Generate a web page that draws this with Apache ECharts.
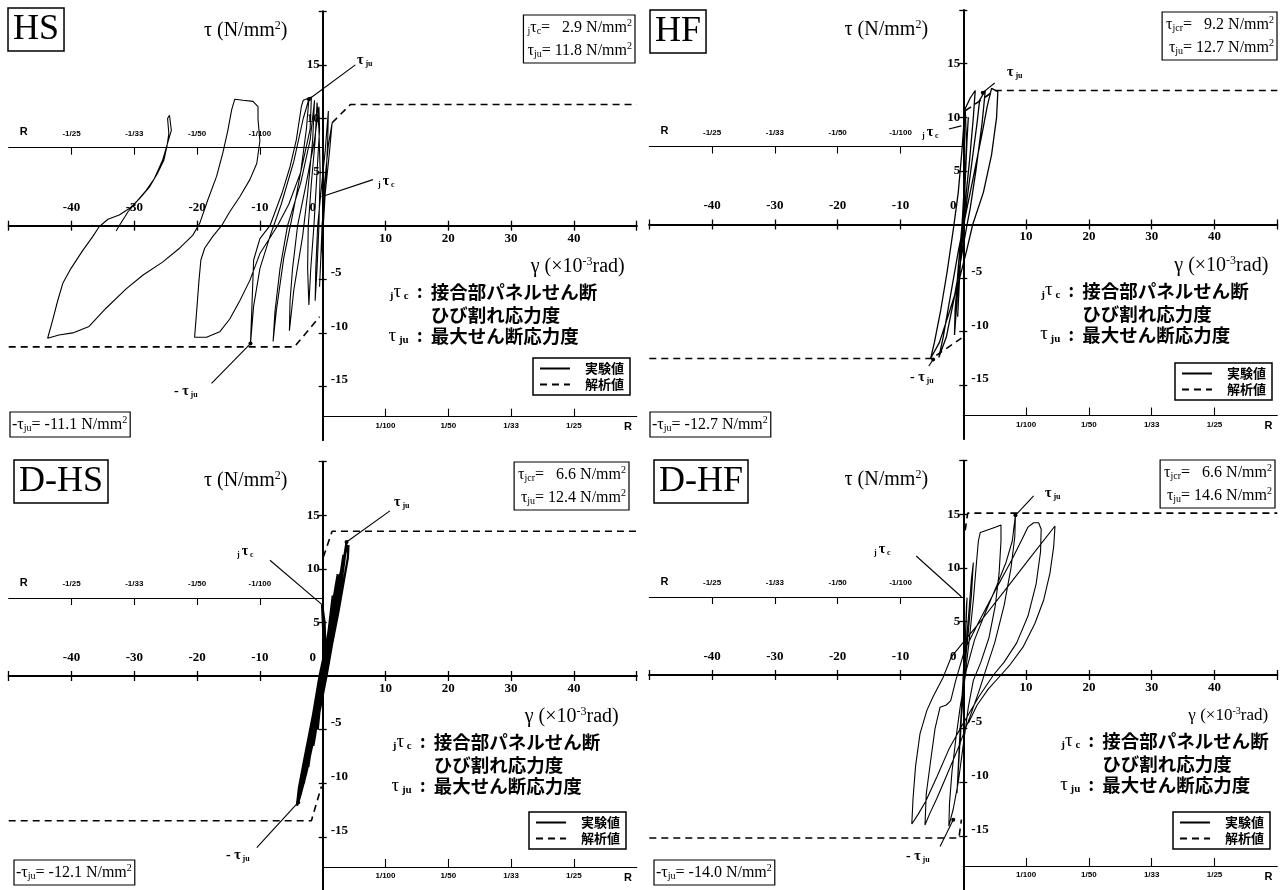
<!DOCTYPE html>
<html>
<head>
<meta charset="utf-8">
<script src="https://cdn.jsdelivr.net/npm/echarts@6/dist/echarts.min.js"></script>
<style>
  html, body { margin: 0; padding: 0; background: #fff; }
  #chart { width: 1286px; height: 890px; }
</style>
</head>
<body>
<div id="chart"></div>
<script>
// 目盛ラベル
var xLabelPos = [10, 20, 30, 40];
var xLabelNeg = [-40, -30, -20, -10];
var yLabelPos = [5, 10, 15];
var yLabelNeg = [-5, -10, -15];
var yTickVals = [-15, -10, -5, 5, 10, 15, 20];
var rTickNeg = [-40, -30, -20, -10];
var rLabelNeg = ['-1/25', '-1/33', '-1/50', '-1/100'];
var rTickPos = [10, 20, 30, 40];
var rLabelPos = ['1/100', '1/50', '1/33', '1/25'];

// 試験体
var titles = ['HS', 'HF', 'D-HS', 'D-HF'];
var crackVal = ['2.9', '9.2', '6.6', '6.6'];
var maxVal = ['11.8', '12.7', '12.4', '14.6'];
var minVal = ['-11.1', '-12.7', '-12.1', '-14.0'];

// 実験値 (γ ×10^-3 rad, τ N/mm2)
var hsCurve = [
  [0,0],[0.3,4],[0.9,7.5],[1.5,9.6],[1.1,7],[0.4,3],[-0.1,0],[-0.3,-3],[-0.5,-5.7],[-0.3,-3],[0.1,0],
  [0.5,4],[0.8,8],[0.9,10.7],[0.4,7],[-0.3,3],[-0.8,0],[-1.1,-4],[-1.2,-7.0],[-0.9,-4],[-0.6,0],
  [-0.4,5],[-0.6,9],[-0.9,11.5],[-1.2,8],[-1.8,4],[-2.3,0],[-2.4,-4],[-2.2,-7.4],[-1.9,-4],[-1.4,0],
  [-0.9,5],[-0.5,9],[-0.6,11.1],[-1.3,8],[-2.6,4],[-4.0,0],[-4.8,-4],[-5.2,-7],[-5.3,-9.8],[-4.6,-6],
  [-3.2,-1],[-2.4,3],[-1.6,8],[-1.3,11.7],[-2.0,8],[-3.5,4],[-5.6,0],[-6.8,-4],[-7.6,-8],[-7.9,-10.8],
  [-7.4,-8],[-6.2,-3],[-4.8,1],[-3.5,5],[-2.6,9],[-2.2,11.8],[-3.1,10],[-4.6,6],[-6.6,2],[-8.4,-1],
  [-10,-4],[-11,-7.5],[-11.5,-11.0],[-11.3,-8],[-11.0,-3.2],[-10.0,-1.2],[-8.4,0],[-6.5,3],[-5.2,5.5],
  [-4.2,8],[-3.4,11.1],[-3.1,11.7],[-1.8,12.0],[-2.0,9],[-3.5,5],[-5.4,2],[-7.2,0],[-8.8,-1.5],[-10.0,-2.6],
  [-11.6,-5.1],[-13.2,-7.0],[-14.8,-8.7],[-16.4,-9.9],[-18.5,-10.4],[-20.4,-10.4],[-20.1,-8.2],[-19.7,-5.1],
  [-19.4,-3.2],[-18.8,-2.1],[-17.5,-1.0],[-16.1,0],[-14.8,1.3],[-13.2,2.7],[-11.6,4.3],[-10.5,5.8],
  [-10.0,7.9],[-10.3,9.9],[-10.3,11.1],[-11.1,11.6],[-12.7,11.7],[-14.0,11.8],[-14.5,10.8],[-15.1,8.9],
  [-15.9,6.8],[-16.9,4.6],[-18.3,2.4],[-19.6,0.2],[-20.7,-0.9],[-22.8,-2.1],[-25.5,-3.4],[-28.6,-4.6],
  [-31.3,-5.9],[-34.5,-7.7],[-37.2,-9.4],[-39.8,-10.0],[-42.0,-10.2],[-43.8,-10.5],[-43.0,-8.8],
  [-42.2,-7.0],[-41.4,-5.4],[-40.1,-4.0],[-38.2,-2.3],[-36.6,-1.0],[-35.6,-0.1],[-34.2,0.6],[-32.4,1.0],
  [-30.8,1.6],[-29.2,2.5],[-27.6,3.6],[-26.3,4.9],[-25.3,6.1],[-24.8,7.4],[-24.5,8.6],[-24.7,10.0],
  [-24.4,10.3],[-24.1,8.9],[-24.7,7.7],[-25.5,6.1],[-26.8,4.4],[-28.1,3.3],[-29.7,2.2],[-31.0,1.3],
  [-32.4,0],[-32.9,-0.5]
];
var hfCurve = [
  [0,0],[0.3,4],[0.6,8],[0.8,10.0],[0.5,7],[0.1,3],[-0.3,-1],[-0.6,-5],[-0.9,-8.6],[-0.6,-5],[-0.2,-1],
  [0.2,3],[0.5,7.5],[0.3,10.8],[1.1,11.8],[1.9,12.5],[1.6,10],[1.0,6],[0.3,2],[-0.2,0],[-0.8,-4],
  [-1.3,-8],[-1.4,-10.3],[-1.0,-7],[-0.3,-2.5],[0.4,1.5],[1.3,5.5],[2.2,9.5],[2.6,11.6],[3.5,12.5],
  [3.0,9.5],[2.0,5],[1.1,1.5],[0.6,0],[-0.3,-3],[-1.5,-7],[-2.7,-10.5],[-3.9,-12.4],[-3.2,-10.5],
  [-2.0,-6.5],[-0.8,-2.5],[0.4,1],[1.8,5],[3.0,8.5],[3.8,11.0],[4.5,12.7],[5.5,12.4],[5.3,10],
  [4.5,6.5],[3.2,3],[1.5,0],[0.5,-2.5],[-0.8,-5.5],[-2.4,-8.5],[-3.8,-11],[-5.2,-12.5],[-4.6,-11],
  [-3.6,-8],[-2.6,-4.5],[-1.6,-0.5],[-0.8,3],[-0.2,7],[0.1,9.5]
];
var dhsCurve = [
  [0,0],[0.2,2],[0.4,3.2],[0.1,1.5],[-0.2,-1],[-0.4,-3],[-0.2,-1.5],[0.1,1],[0.1,4],[-0.1,6.7],[0.3,5],
  [0.4,3],[0.2,0.5],[-0.3,-2],[-0.8,-5],[-0.5,-3],[0.1,0],[0.8,3],[1.4,6],[1.6,7.5],[1.1,5],[0.5,2],
  [0.1,0],[-0.6,-3],[-1.2,-5.5],[-1.5,-6.5],[-1.0,-4.5],[-0.3,-1],[0.5,2.5],[1.4,6],[2.1,8.5],[2.4,9.5],
  [1.9,7],[1.2,4],[0.5,1],[0.1,0],[-0.8,-3],[-1.7,-6],[-2.3,-8.5],[-1.8,-6.5],[-1.0,-3.5],[-0.3,-0.5],
  [0.6,2.5],[1.6,5.5],[2.6,8.5],[3.3,11.3],[2.9,9.5],[2.0,6],[1.1,3],[0.4,0.5],[-0.5,-2.5],[-1.6,-5.5],
  [-2.4,-8],[-3.0,-10],[-2.5,-8],[-1.6,-5],[-0.6,-1.5],[0.4,1.5],[1.5,4.5],[2.6,8],[3.4,11],[3.8,12.5],
  [3.5,11],[2.8,8],[1.8,4.5],[0.9,1.5],[0.3,-0.5],[-0.6,-3],[-1.7,-6],[-2.8,-9],[-3.6,-11.2],[-3.9,-11.8],
  [-3.4,-10],[-2.5,-7],[-1.5,-3.5],[-0.5,0],[0.6,3],[1.7,6.5],[2.8,9.5],[3.6,11.5],[4.1,12.2],[4.0,11],
  [3.4,9],[2.5,6],[1.5,3],[0.6,0],[-0.4,-3],[-1.5,-6],[-2.6,-9],[-3.5,-11],[-4.1,-12.1],[-3.8,-10.5],
  [-3.0,-8],[-2.0,-5],[-1.0,-2]
];
var dhfCurve = [
  [0,0],[0.3,3],[0.5,6.5],[0.6,7.2],[0.4,4],[0.1,1],[-0.2,-2],[-0.4,-5],[-0.5,-6.5],[-0.3,-4],[0,-1],
  [0.4,2.5],[0.9,6],[1.3,9],[1.6,10.5],[1.3,7.5],[0.8,4],[0.3,1],[-0.1,-1.5],[-0.5,-5],[-0.8,-8.5],
  [-1.0,-11],[-0.7,-8],[-0.3,-4],[0.2,-0.5],[0.9,3],[1.6,7],[2.1,10.5],[2.4,12.5],[2.7,13.3],[4.2,13.6],
  [5.2,13.8],[6.0,14.0],[6.0,12.5],[5.7,9.5],[5.1,6.5],[4.1,3.5],[2.8,1.2],[1.6,-0.5],[0.8,-3],[0.0,-6.5],
  [-0.8,-10],[-1.6,-12.5],[-2.3,-14.1],[-2.2,-12],[-1.8,-9],[-1.2,-6],[-0.5,-3],[0.5,0.5],[1.8,3.3],
  [3.5,5.8],[5.3,8.3],[6.8,10.5],[7.8,12.5],[8.3,14.9],[8.2,12.9],[7.6,10],[6.5,6.5],[5.0,3],[3.6,0.5],
  [2.5,-1.5],[1.0,-4],[-0.8,-6.8],[-2.6,-9.3],[-4.2,-11.5],[-5.4,-13],[-6.1,-14.0],[-5.9,-11.1],[-5.2,-8],
  [-4.5,-5],[-3.7,-3.0],[-2.7,-2.8],[-2.0,-2.4],[-1.2,-0.5],[0.2,2.3],[2.5,5],[5,7.8],[7.5,10.5],
  [9.3,12.6],[10.3,13.8],[11.2,14.2],[12.0,14.2],[12.4,13.6],[12.3,11.5],[11.6,8.5],[10.3,5.5],[8.5,3],
  [6.5,1.2],[4.8,0],[2.5,-2],[0,-4.5],[-2.2,-6.8],[-4.2,-9.5],[-6.0,-11.8],[-7.2,-13],[-8.2,-13.9],
  [-8.0,-11.5],[-7.6,-8.5],[-6.9,-5.5],[-5.8,-3.3],[-4.8,-2.0],[-3.2,-0.2],[-1.9,1.7],[2.6,4.9],
  [6.5,7.8],[10.6,10.9],[14.6,13.9],[14.4,12],[13.8,9.5],[12.8,7],[11.4,4.8],[9.5,2.6],[7.5,1],[6.0,0],
  [4,-1.3],[2.2,-2.8],[0.8,-4.5]
];
var curves = [hsCurve, hfCurve, dhsCurve, dhfCurve];
var curveWidth = [1.1, 1.3, 2.3, 1.1];

// 解析値
var dashLow = [
  [[-50,-11.3],[-4.5,-11.3],[-0.5,-8.5]],
  [[-50,-12.5],[-5.0,-12.5],[-0.3,-10.6]],
  [[-50,-13.5],[-1.8,-13.5],[-0.2,-10.3]],
  [[-50,-15.2],[-0.7,-15.2],[-0.3,-13.5]]
];
var dashHigh = [
  [[1.5,9.6],[4.4,11.3],[50,11.3]],
  [[0.3,10.6],[5.0,12.5],[50,12.5]],
  [[0.1,11.1],[1.5,13.5],[50,13.5]],
  [[0.3,13.5],[0.7,15.1],[50,15.1]]
];

// 引出線 (τju, jτc, -τju)
var leadMax = [[[5.2,15.0],[-2.2,11.8]], [[5.0,13.2],[3.1,12.3]], [[10.7,15.4],[3.8,12.5]], [[11.2,16.7],[8.3,14.9]]];
var leadCrack = [[[8.0,4.3],[-0.2,2.7]], [[-2.3,8.9],[-0.3,9.2]], [[-8.4,10.8],[-0.2,6.7]], [[-7.5,11.1],[-0.3,7.3]]];
var leadMin = [[[-17.7,-14.7],[-11.5,-11.0]], [[-5.5,-13.2],[-4.8,-12.6]], [[-10.5,-16.0],[-3.9,-11.8]], [[-3.7,-16.0],[-1.6,-13.5]]];

// 各グラフの原点 (px)
var origins = [[322.7, 225.7], [963.3, 224.5], [322.7, 676], [963.3, 675]];
var XW = 314, YH = 214.4;

var SERIF = 'Liberation Serif';
var SANS = 'Liberation Sans';
var JP = 'Noto Sans CJK JP';

var chart = echarts.init(document.getElementById('chart'));

var grid = [], xAxis = [], yAxis = [], series = [], graphic = [], legend = [];

// 主軸: offset で原点に移動
function mainX(gi, upper) {
  return {
    type: 'value', gridIndex: gi, min: -50, max: 50, interval: 10,
    position: upper ? 'top' : 'bottom', offset: -YH,
    axisLine: { onZero: false, lineStyle: { color: '#000', width: 1.8 } },
    axisTick: { inside: false, length: 5, lineStyle: { color: '#000', width: 1.3 } },
    axisLabel: {
      margin: upper ? 12 : 6,
      customValues: upper ? xLabelNeg.concat([0]) : xLabelPos,
      formatter: function (v) { return v === 0 ? '{z|0}' : String(v); },
      color: '#000', fontFamily: SERIF, fontWeight: 'bold', fontSize: 13,
      rich: { z: { padding: [0, 20, 0, 0], fontFamily: SERIF, fontWeight: 'bold', fontSize: 13, color: '#000' } }
    },
    splitLine: { show: false }
  };
}
function mainY(gi, lower) {
  return {
    type: 'value', gridIndex: gi, min: -20, max: 20, interval: 5,
    position: lower ? 'right' : 'left', offset: -XW,
    axisLine: { onZero: false, lineStyle: { color: '#000', width: 1.8 } },
    axisTick: { inside: false, length: 4, customValues: yTickVals, lineStyle: { color: '#000', width: 1.3 } },
    axisLabel: {
      margin: lower ? 8 : 3,
      customValues: lower ? yLabelNeg : yLabelPos,
      verticalAlign: lower ? 'bottom' : 'middle',
      color: '#000', fontFamily: SERIF, fontWeight: 'bold', fontSize: 13
    },
    splitLine: { show: false }
  };
}
function rAxis(gi, left) {
  var ticks = left ? rTickNeg : rTickPos;
  var labs = left ? rLabelNeg : rLabelPos;
  return {
    type: 'value', gridIndex: gi, min: left ? -50 : 0, max: left ? 0 : 50,
    position: left ? 'bottom' : 'top',
    axisLine: { onZero: false, lineStyle: { color: '#000', width: 1.1 } },
    axisTick: { inside: false, length: left ? 7 : 8, customValues: ticks, lineStyle: { color: '#000', width: 1.1 } },
    axisLabel: {
      inside: true, margin: left ? 10 : 5,
      customValues: ticks.concat([left ? -47.6 : 48.6]),
      formatter: function (v) {
        var i = ticks.indexOf(v);
        return i < 0 ? '{r|R}' : labs[i];
      },
      color: '#000', fontFamily: SANS, fontWeight: 'bold', fontSize: 8,
      rich: { r: { fontFamily: SANS, fontWeight: 'bold', fontSize: 11, color: '#000' } }
    },
    splitLine: { show: false }
  };
}
function hiddenY(gi) {
  return { type: 'value', gridIndex: gi, show: false, min: 0, max: 1 };
}

var subRich = {
  t: { fontFamily: SERIF, fontSize: 16, color: '#000' },
  s: { fontFamily: SERIF, fontSize: 10, color: '#000', padding: [7, 0, 0, 0] },
  p: { fontFamily: SERIF, fontSize: 10, color: '#000', padding: [0, 0, 9, 0] }
};
var callRich = {
  t: { fontFamily: SERIF, fontSize: 14, fontWeight: 'bold', color: '#000' },
  s: { fontFamily: SERIF, fontSize: 8, fontWeight: 'bold', color: '#000', padding: [7, 0, 0, 0] }
};
var symRich = {
  t: { fontFamily: SERIF, fontSize: 19, color: '#000' },
  s: { fontFamily: SERIF, fontSize: 11, fontWeight: 'bold', color: '#000', padding: [9, 0, 0, 0] }
};

// パネル毎の文字位置
var titlePos = [[8, 8], [650, 10], [14, 460], [654, 460]];
var boxRight = [[635, 15], [1277, 12], [629, 462], [1275, 460]];
var minBoxPos = [[10, 412], [650, 412], [14, 860], [654, 860]];
var gammaDx = [255, 258, 249, 265];
var gammaSize = [20, 20, 20, 17];
var noteDx = [108, 119, 111, 139];
var legendPos = [[533, 358], [1175, 363], [529, 812], [1173, 812]];
var callMax = [[357, 60], [1007, 72], [394, 502], [1045, 493]];
var callCrack = [[378, 181], [922, 132], [237, 551], [874, 549]];
var callMin = [[174, 391], [910, 377], [226, 855], [906, 856]];

origins.forEach(function (o, p) {
  var ox = o[0], oy = o[1];
  var g = 3 * p, a = 4 * p;
  grid.push({ left: ox - XW, top: oy - YH, width: 2 * XW, height: 2 * YH, outerBoundsMode: 'none' });
  grid.push({ left: ox - XW, top: oy - 78 - 40, width: XW, height: 40, outerBoundsMode: 'none' });
  grid.push({ left: ox, top: oy + 191, width: XW, height: 30, outerBoundsMode: 'none' });

  xAxis.push(mainX(g, false), mainX(g, true), rAxis(g + 1, true), rAxis(g + 2, false));
  yAxis.push(mainY(g, false), mainY(g, true), hiddenY(g + 1), hiddenY(g + 2));

  series.push({
    type: 'line', name: '実験値', xAxisIndex: a, yAxisIndex: a, data: curves[p],
    symbol: 'none', lineStyle: { color: '#000', width: curveWidth[p] }, silent: true, z: 3
  });
  [dashLow[p], dashHigh[p]].forEach(function (d) {
    series.push({
      type: 'line', name: '解析値', xAxisIndex: a, yAxisIndex: a, data: d,
      symbol: 'none', lineStyle: { color: '#000', width: 1.6, type: [7, 5] }, silent: true, z: 2
    });
  });
  [leadMax[p], leadCrack[p], leadMin[p]].forEach(function (d, k) {
    series.push({
      type: 'line', name: 'lead', xAxisIndex: a, yAxisIndex: a,
      data: [d[0], { value: d[1], symbol: k === 1 ? 'none' : 'circle', symbolSize: 4 }],
      symbol: 'none', showSymbol: true, itemStyle: { color: '#000' },
      lineStyle: { color: '#000', width: 1.1 }, silent: true, z: 4
    });
  });

  legend.push({
    left: legendPos[p][0], top: legendPos[p][1], orient: 'vertical',
    data: ['実験値', '解析値'], selectedMode: false,
    borderColor: '#000', borderWidth: 1.5, padding: [4, 6, 4, 6], itemGap: 3,
    itemWidth: 30, itemHeight: 12,
    itemStyle: { color: 'rgba(0,0,0,0)', borderWidth: 0 },
    lineStyle: { color: '#000' },
    textStyle: { fontFamily: JP, fontWeight: 'bold', fontSize: 13, color: '#000', padding: [0, 0, 0, 10] }
  });

  // タイトル枠
  graphic.push({
    type: 'text', x: titlePos[p][0], y: titlePos[p][1],
    style: {
      text: titles[p], fontFamily: SERIF, fontSize: 36, fill: '#000', lineHeight: 42,
      borderColor: '#000', borderWidth: 1.5, padding: [1, 5, 0, 5]
    }
  });
  // τ (N/mm2)
  graphic.push({
    type: 'text', x: ox - 77, y: oy - 195,
    style: {
      text: '{a|τ (N/mm}{b|2}{a|)}', align: 'center', verticalAlign: 'middle',
      rich: {
        a: { fontFamily: SERIF, fontSize: 20, color: '#000' },
        b: { fontFamily: SERIF, fontSize: 12, color: '#000', padding: [0, 0, 10, 0] }
      }
    }
  });
  // γ (×10-3 rad)
  graphic.push({
    type: 'text', x: ox + gammaDx[p], y: oy + 41,
    style: {
      text: '{a|γ (×10}{b|-3}{a|rad)}', align: 'center', verticalAlign: 'middle',
      rich: {
        a: { fontFamily: SERIF, fontSize: gammaSize[p], color: '#000' },
        b: { fontFamily: SERIF, fontSize: gammaSize[p] * 0.6, color: '#000', padding: [0, 0, 10, 0] }
      }
    }
  });
  // 右上の値
  var line1 = p === 0
    ? '{s|j}{t|τ}{s|c}{t|=   ' + crackVal[p] + ' N/mm}{p|2}'
    : '{t|τ}{s|jcr}{t|=   ' + crackVal[p] + ' N/mm}{p|2}';
  var line2 = '{t|τ}{s|ju}{t|= ' + maxVal[p] + ' N/mm}{p|2}';
  graphic.push({
    type: 'text', x: boxRight[p][0], y: boxRight[p][1],
    style: {
      text: line1 + '\n' + line2, rich: subRich, align: 'right', verticalAlign: 'top',
      lineHeight: 23, borderColor: '#000', borderWidth: 1.2, padding: [1, 3, 1, 4]
    }
  });
  // 左下の値
  graphic.push({
    type: 'text', x: minBoxPos[p][0], y: minBoxPos[p][1],
    style: {
      text: '{t|-τ}{s|ju}{t|= ' + minVal[p] + ' N/mm}{p|2}', rich: subRich,
      lineHeight: 24, borderColor: '#000', borderWidth: 1.2, padding: [1, 3, 0, 2]
    }
  });
  // 記号説明
  var jx = ox + noteDx[p];
  graphic.push(
    { type: 'text', x: jx - 22, y: oy + 66, style: { text: '{s|j}{t|τ}{s| c}', rich: symRich, align: 'right', verticalAlign: 'middle' } },
    { type: 'text', x: jx - 11, y: oy + 66, style: { text: ':', fontFamily: JP, fontWeight: 'bold', fontSize: 17, fill: '#000', align: 'center', verticalAlign: 'middle' } },
    { type: 'text', x: jx, y: oy + 66, style: { text: '接合部パネルせん断', fontFamily: JP, fontWeight: 'bold', fontSize: 18.5, fill: '#000', verticalAlign: 'middle' } },
    { type: 'text', x: jx, y: oy + 89, style: { text: 'ひび割れ応力度', fontFamily: JP, fontWeight: 'bold', fontSize: 18.5, fill: '#000', verticalAlign: 'middle' } },
    { type: 'text', x: jx - 22, y: oy + 110, style: { text: '{t|τ}{s| ju}', rich: symRich, align: 'right', verticalAlign: 'middle' } },
    { type: 'text', x: jx - 11, y: oy + 110, style: { text: ':', fontFamily: JP, fontWeight: 'bold', fontSize: 17, fill: '#000', align: 'center', verticalAlign: 'middle' } },
    { type: 'text', x: jx, y: oy + 110, style: { text: '最大せん断応力度', fontFamily: JP, fontWeight: 'bold', fontSize: 18.5, fill: '#000', verticalAlign: 'middle' } }
  );
  // 引出線ラベル
  graphic.push(
    { type: 'text', x: callMax[p][0], y: callMax[p][1], style: { text: '{t|τ}{s| ju}', rich: callRich, verticalAlign: 'middle' } },
    { type: 'text', x: callCrack[p][0], y: callCrack[p][1], style: { text: '{s|j }{t|τ}{s| c}', rich: callRich, verticalAlign: 'middle' } },
    { type: 'text', x: callMin[p][0], y: callMin[p][1], style: { text: '{t|- τ}{s| ju}', rich: callRich, verticalAlign: 'middle' } }
  );
});

var option = {
  backgroundColor: '#fff',
  animation: false,
  grid: grid,
  xAxis: xAxis,
  yAxis: yAxis,
  legend: legend,
  series: series,
  graphic: { elements: graphic }
};

chart.setOption(option);
window.addEventListener('resize', function () {
  chart.resize();
});
</script>
</body>
</html>
